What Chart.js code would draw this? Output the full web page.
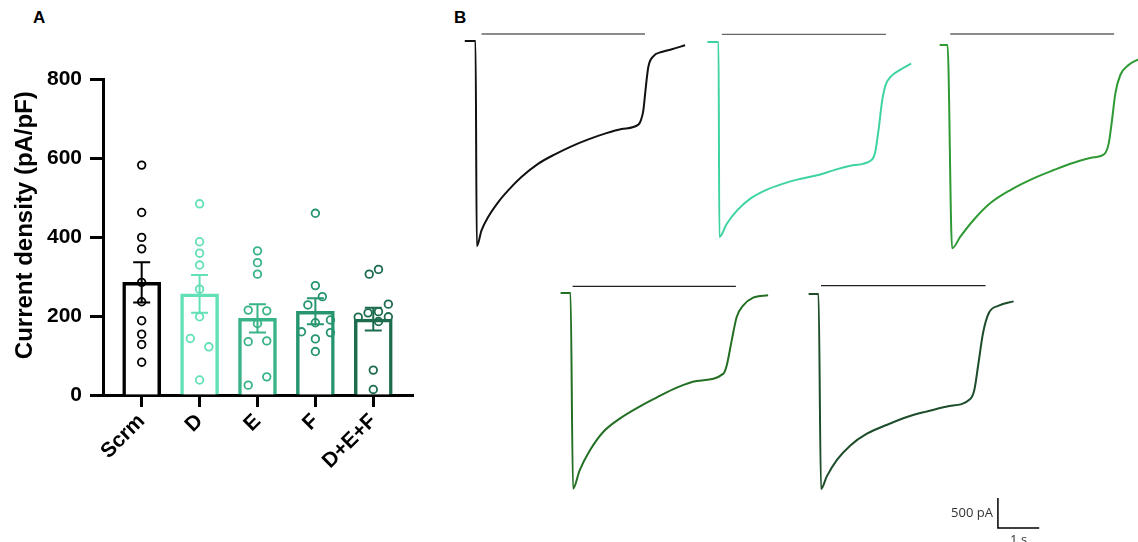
<!DOCTYPE html>
<html>
<head>
<meta charset="utf-8">
<script src="https://cdn.jsdelivr.net/npm/chart.js@4.4.0/dist/chart.umd.min.js"></script>
<style>
  body { margin: 0; width: 1138px; height: 542px; overflow: hidden; background: #fff; position: relative; font-family: "Liberation Sans", Arial, sans-serif; }
  canvas { position: absolute; }
  .panel { position: absolute; font-weight: bold; font-size: 17px; }
</style>
</head>
<body>
<div class="panel" style="left:33px;top:8px">A</div>
<div class="panel" style="left:454px;top:8px">B</div>
<canvas id="barChart" width="430" height="542" style="left:0;top:0"></canvas>
<canvas id="trace1" width="248" height="276" style="left:459px;top:17px"></canvas>
<canvas id="trace2" width="248" height="276" style="left:702px;top:18px"></canvas>
<canvas id="trace3" width="248" height="276" style="left:931px;top:21px"></canvas>
<canvas id="trace4" width="248" height="276" style="left:554px;top:269px"></canvas>
<canvas id="trace5" width="248" height="276" style="left:802px;top:270px"></canvas>
<script>
// Panel A: current density per group (pA/pF)
const groups = ["Scrm", "D", "E", "F", "D+E+F"];
const means = [285, 256, 194, 212, 192];
const sems = [51, 48, 36, 33, 29];

// individual cells, with horizontal jitter in category units
const scrmCells = [582, 462, 399, 370, 285, 236, 188, 154, 128, 83];
const scrmJitter = [0, 0, 0, 0, 0, 0, 0, 0, 0, 0];
const dCells = [484, 388, 359, 329, 268, 198, 143, 122, 38];
const dJitter = [0, 0, 0, 0, 0, 0, -0.16, 0.16, 0];
const eCells = [365, 335, 306, 215, 213, 181, 135, 137, 46, 25];
const eJitter = [0, 0, 0, -0.16, 0.16, 0, -0.16, 0.16, 0.16, -0.16];
const fCells = [460, 277, 249, 228, 190, 183, 160, 158, 142, 110];
const fJitter = [0, 0, 0.12, -0.13, 0.26, 0, -0.24, 0.26, 0, 0];
const defCells = [318, 306, 230, 211, 208, 198, 197, 186, 63, 14];
const defJitter = [0.09, -0.07, 0.26, 0.09, -0.09, 0.26, -0.26, 0.09, 0, 0];

const yTicks = [0, 200, 400, 600, 800];
const yTitle = 'Current density (pA/pF)';

// Panel B: example traces, time (s) and current (pA)
const t1 = [-0.26, 0, 0.03, 0.145, 0.305, 0.55, 0.79, 1.11, 1.52, 1.92, 2.32, 2.73, 3.13, 3.53, 3.94, 4.00, 4.06, 4.12, 4.18, 4.30, 4.50, 4.75, 5.07];
const i1 = [0, 0, -3420, -3156, -2934, -2684, -2489, -2267, -2044, -1889, -1755, -1639, -1544, -1467, -1394, -1322, -1155, -767, -433, -255, -183, -138, -72];
const t2 = [-0.27, 0, 0.02, 0.20, 0.45, 0.77, 1.17, 1.57, 1.90, 2.38, 2.78, 3.19, 3.71, 3.79, 3.87, 3.96, 4.04, 4.16, 4.40, 4.66];
const i2 = [0, 0, -3250, -3028, -2806, -2611, -2461, -2361, -2294, -2222, -2139, -2061, -1961, -1834, -1472, -972, -722, -583, -460, -360];
const t3 = [-0.19, 0, 0.11, 0.31, 0.63, 1.03, 1.52, 2.08, 2.57, 3.05, 3.54, 3.79, 3.90, 3.98, 4.06, 4.18, 4.38, 4.62];
const i3 = [0, 0, -3389, -3195, -2917, -2639, -2417, -2222, -2084, -1962, -1872, -1822, -1639, -1250, -805, -500, -333, -238];
const t4 = [-0.24, 0, 0.06, 0.22, 0.47, 0.79, 1.19, 1.68, 2.08, 2.57, 3.05, 3.70, 3.78, 3.90, 4.02, 4.18, 4.42, 4.78];
const i4 = [0, 0, -3261, -2956, -2622, -2317, -2094, -1889, -1744, -1577, -1467, -1344, -1205, -789, -400, -205, -77, -38];
const t5 = [-0.24, 0, 0.06, 0.20, 0.45, 0.77, 1.17, 1.66, 2.14, 2.62, 3.11, 3.67, 3.77, 3.87, 3.98, 4.12, 4.36, 4.72];
const i5 = [0, 0, -3250, -3040, -2762, -2524, -2329, -2179, -2050, -1957, -1874, -1750, -1595, -1150, -650, -317, -195, -123];

// stimulus bars above each trace
const stimStart = [0.145, 0.08, 0.065, 0.05, 0.06];
const stimEnd = [4.10, 4.05, 4.03, 4.00, 4.04];
const stimLevel = [117, 128, 183, 111, 139];

// scale bar: 500 pA, 1 s
const scaleBarT = [4.34, 4.34, 5.34];
const scaleBarI = [-3400, -3900, -3900];

const groupColors = ['#000000', '#62e0b8', '#38b487', '#27966f', '#1d6c4e'];
const traceColors = ['#111111', '#3fd3a4', '#2f9a34', '#236f23', '#1d4d2b'];

const cellValues = [scrmCells, dCells, eCells, fCells, defCells];
const cellJitter = [scrmJitter, dJitter, eJitter, fJitter, defJitter];
const boldFont = { family: '"Liberation Sans", Arial, sans-serif', weight: 'bold', size: 21 };

// SEM whiskers
const errorBars = {
  id: 'errorBars',
  afterDatasetsDraw(chart) {
    const { ctx, scales: { x, y } } = chart;
    ctx.save();
    ctx.lineWidth = 2;
    means.forEach((m, i) => {
      const px = x.getPixelForValue(i);
      const top = y.getPixelForValue(m + sems[i]);
      const bot = y.getPixelForValue(m - sems[i]);
      ctx.strokeStyle = groupColors[i];
      ctx.beginPath();
      ctx.moveTo(px, top); ctx.lineTo(px, bot);
      ctx.moveTo(px - 8.5, top); ctx.lineTo(px + 8.5, top);
      ctx.moveTo(px - 8.5, bot); ctx.lineTo(px + 8.5, bot);
      ctx.stroke();
    });
    ctx.restore();
  }
};

// rotated y-axis title, centred a little above the axis middle like the original
const yAxisTitle = {
  id: 'yAxisTitle',
  afterDraw(chart) {
    const { ctx, scales: { y } } = chart;
    ctx.save();
    ctx.translate(25, y.getPixelForValue(430));
    ctx.rotate(-Math.PI / 2);
    ctx.fillStyle = '#000';
    ctx.font = 'bold 24px "Liberation Sans", Arial, sans-serif';
    ctx.textAlign = 'center';
    ctx.textBaseline = 'middle';
    ctx.fillText(yTitle, 0, 0);
    ctx.restore();
  }
};

new Chart(document.getElementById('barChart'), {
  type: 'bar',
  data: {
    datasets: [
      ...cellValues.map((vals, g) => ({
        type: 'scatter',
        data: vals.map((v, k) => ({ x: g + cellJitter[g][k], y: v })),
        borderColor: groupColors[g],
        backgroundColor: 'rgba(255,255,255,0)',
        pointRadius: 3.8,
        borderWidth: 1.8,
        order: 1
      })),
      {
        type: 'bar',
        data: means.map((m, i) => ({ x: i, y: m })),
        backgroundColor: '#ffffff',
        borderColor: groupColors,
        borderWidth: 3.5,
        barThickness: 38,
        order: 2
      }
    ]
  },
  options: {
    responsive: false,
    animation: false,
    layout: { padding: { top: 79, right: 17, left: 0, bottom: 0 } },
    plugins: { legend: { display: false }, tooltip: { enabled: false } },
    scales: {
      x: {
        type: 'linear',
        offset: false,
        min: -0.668,
        max: 4.686,
        afterBuildTicks: s => { s.ticks = groups.map((g, i) => ({ value: i })); },
        afterFit: s => { s.height = 147; },
        ticks: {
          autoSkip: false, minRotation: 45, maxRotation: 45, padding: 2,
          callback: v => groups[v], color: '#000', font: boldFont
        },
        grid: { offset: false, drawOnChartArea: false, tickLength: 12, tickWidth: 3, color: '#000' },
        border: { color: '#000', width: 3 }
      },
      y: {
        min: 0,
        max: 800,
        afterBuildTicks: s => { s.ticks = yTicks.map(v => ({ value: v })); },
        afterFit: s => { s.width = 103; },
        ticks: { color: '#000', font: boldFont, padding: 8 },
        grid: { drawOnChartArea: false, tickLength: 13, tickWidth: 3, color: '#000' },
        border: { color: '#000', width: 3 }
      }
    }
  },
  plugins: [errorBars, yAxisTitle]
});

// scale bar labels on the last trace
const scaleLabels = {
  id: 'scaleLabels',
  afterDraw(chart) {
    const { ctx, scales: { x, y } } = chart;
    ctx.save();
    ctx.fillStyle = '#333';
    ctx.font = '13px "Open Sans", sans-serif';
    ctx.textAlign = 'right';
    ctx.textBaseline = 'middle';
    ctx.fillText('500 pA', x.getPixelForValue(scaleBarT[0]) - 5, y.getPixelForValue((scaleBarI[0] + scaleBarI[1]) / 2));
    ctx.textAlign = 'center';
    ctx.textBaseline = 'top';
    ctx.fillText('1 s', x.getPixelForValue((scaleBarT[1] + scaleBarT[2]) / 2), y.getPixelForValue(scaleBarI[2]) + 6);
    ctx.restore();
  }
};

const traceT = [t1, t2, t3, t4, t5];
const traceI = [i1, i2, i3, i4, i5];

traceT.forEach((ts, k) => {
  const datasets = [
    {
      data: ts.map((t, j) => ({ x: t, y: traceI[k][j] })),
      borderColor: traceColors[k],
      borderWidth: 2,
      pointRadius: 0,
      cubicInterpolationMode: 'monotone'
    },
    {
      data: [{ x: stimStart[k], y: stimLevel[k] }, { x: stimEnd[k], y: stimLevel[k] }],
      borderColor: k < 3 ? '#666' : '#222',
      borderWidth: 1.3,
      pointRadius: 0
    }
  ];
  if (k === 4) {
    datasets.push({
      data: scaleBarT.map((t, j) => ({ x: t, y: scaleBarI[j] })),
      borderColor: '#000',
      borderWidth: 1.5,
      pointRadius: 0
    });
  }
  new Chart(document.getElementById('trace' + (k + 1)), {
    type: 'line',
    data: { datasets },
    options: {
      responsive: false,
      animation: false,
      layout: { padding: 0 },
      plugins: { legend: { display: false }, tooltip: { enabled: false } },
      scales: {
        x: { type: 'linear', min: -0.4, max: 5.6, display: false },
        y: { min: -4200, max: 400, display: false }
      }
    },
    plugins: k === 4 ? [scaleLabels] : []
  });
});
</script>
</body>
</html>
